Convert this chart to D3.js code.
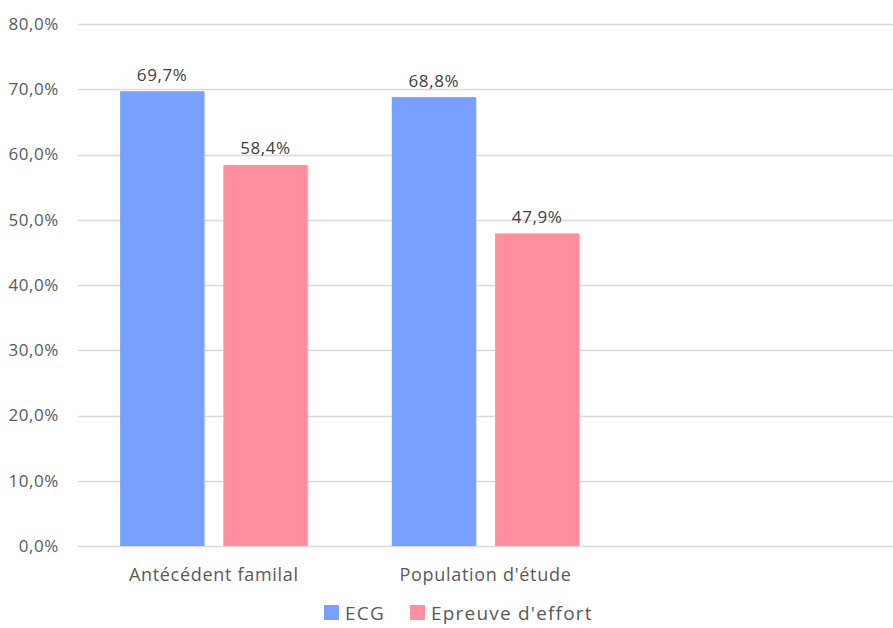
<!DOCTYPE html>
<html><head><meta charset="utf-8">
<script src="https://cdn.jsdelivr.net/npm/d3@7"></script>
<style>body{margin:0;background:#fff}svg{display:block}text{font-family:"Open Sans",sans-serif;fill:#595959}</style>
</head><body>
<svg id="c" width="893" height="628"></svg>
<script>
const categories = ["Antécédent familal", "Population d'étude", ""];
const seriesNames = ["ECG", "Epreuve d'effort"];
const ecgValues = [69.7, 68.8, null];
const effortValues = [58.4, 47.9, null];
const yTicks = [0, 10, 20, 30, 40, 50, 60, 70, 80];
const colors = ["#78a0fe", "#ff8f9e"];

(function () {
const svg = d3.select("#c");
const mLeft = 78, mRight = 893, mTop = 24, mBottom = 546;
const y = d3.scaleLinear().domain([0, 80]).range([mBottom, mTop]);
const x0 = d3.scaleBand().domain(categories).range([mLeft, mRight]).paddingInner(0.31).paddingOuter(0.155);
const x1 = d3.scaleBand().domain(seriesNames).range([0, x0.bandwidth()]).paddingInner(0.185);
const fmt = v => v.toFixed(1).replace(".", ",") + "%";

// gridlines
svg.append("g").selectAll("line").data(yTicks).join("line")
  .attr("x1", mLeft).attr("x2", mRight)
  .attr("y1", d => Math.round(y(d)) + 0.5).attr("y2", d => Math.round(y(d)) + 0.5)
  .attr("stroke", "#d9d9d9").attr("stroke-width", 1.5);

// y axis labels
const yAxis = d3.axisLeft(y).tickValues(yTicks).tickFormat(fmt).tickSize(0).tickPadding(0);
const ga = svg.append("g").attr("transform", `translate(59,0)`).call(yAxis);
ga.select(".domain").remove();
ga.selectAll("text").style("font-family", '"Open Sans",sans-serif').style("font-size", "17px")
  .style("letter-spacing", "0.6px").attr("fill", "#595959");

// bars
const data = categories.map((c, i) => ({c, vals: [ecgValues[i], effortValues[i]]}));
const groups = svg.append("g").selectAll("g").data(data).join("g")
  .attr("transform", d => `translate(${x0(d.c)},0)`);
const items = groups.selectAll("g").data(d => d.vals.map((v, j) => ({v, s: seriesNames[j], j})).filter(e => e.v != null)).join("g");
items.append("rect")
  .attr("x", d => x1(d.s) + 1).attr("y", d => y(d.v) + 1)
  .attr("width", x1.bandwidth()).attr("height", d => y(0) - y(d.v) - 1)
  .attr("fill", "#bbb").attr("opacity", 0.5);
items.append("rect")
  .attr("x", d => x1(d.s)).attr("y", d => y(d.v))
  .attr("width", x1.bandwidth()).attr("height", d => y(0) - y(d.v))
  .attr("fill", d => colors[d.j]);
items.append("text")
  .attr("x", d => x1(d.s) + x1.bandwidth() / 2).attr("y", d => y(d.v) - 10.5)
  .attr("text-anchor", "middle").style("font-size", "17px").style("letter-spacing", "0.6px")
  .style("fill", "#404040")
  .text(d => fmt(d.v));

// x labels
svg.append("g").selectAll("text").data(categories).join("text")
  .attr("x", d => x0(d) + x0.bandwidth() / 2).attr("y", 581)
  .attr("text-anchor", "middle").style("font-size", "18px").style("letter-spacing", "0.7px")
  .text(d => d);

// legend
const legX = [324, 410];
const leg = svg.append("g").selectAll("g").data(seriesNames).join("g")
  .attr("transform", (d, i) => `translate(${legX[i]},0)`);
leg.append("rect").attr("x", 0).attr("y", 605).attr("width", 15).attr("height", 15).attr("fill", (d, i) => colors[i]);
leg.append("text").attr("x", 21).attr("y", 620).style("font-size", "19px").style("letter-spacing", "1.2px").text(d => d);
})();
</script>
</body></html>
